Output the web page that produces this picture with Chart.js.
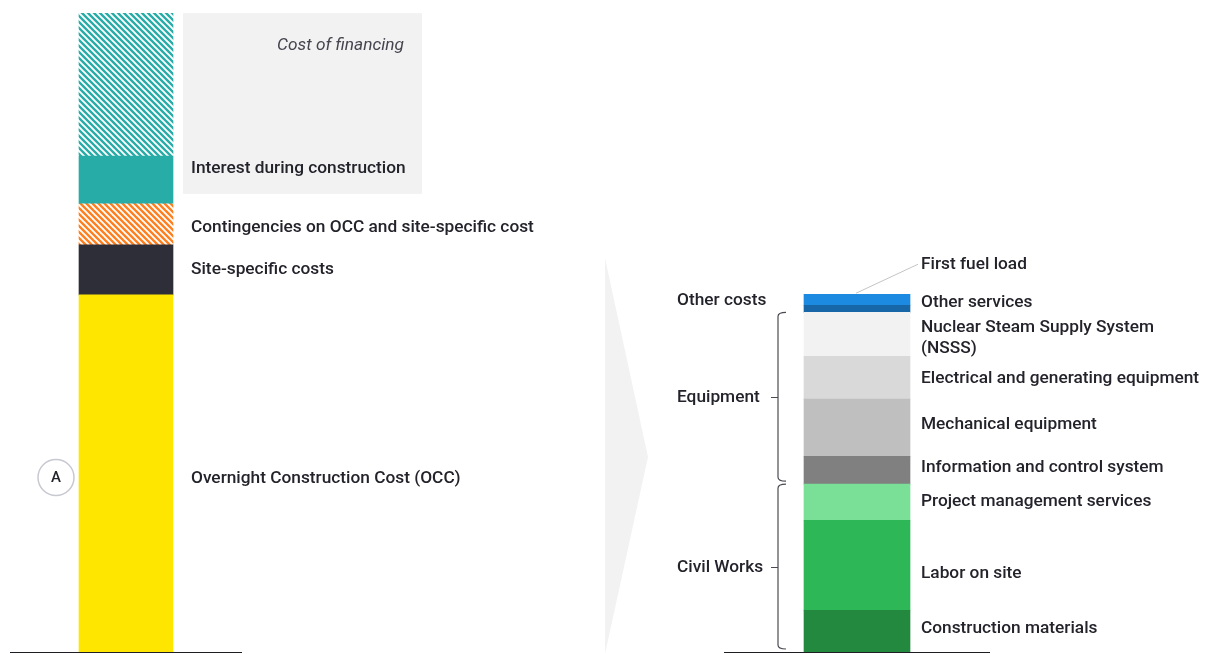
<!DOCTYPE html>
<html>
<head>
<meta charset="utf-8">
<script src="https://cdn.jsdelivr.net/npm/chart.js@4/dist/chart.umd.min.js"></script>
<style>
  html, body { margin: 0; padding: 0; background: #fff; }
  #wrap { width: 1209px; height: 654px; }
</style>
</head>
<body>
<div id="wrap"><canvas id="costChart" width="1209" height="654"></canvas></div>
<script>
// Left bar: total cost build-up (bottom to top), OCC = 100
const leftLabels = ['Overnight Construction Cost (OCC)', 'Site-specific costs',
  'Contingencies on OCC and site-specific cost', 'Interest during construction', 'Cost of financing'];
const leftValues = [100, 14, 11.5, 13.4, 40];

// Right bar: OCC breakdown (bottom to top)
const rightLabels = ['Construction materials', 'Labor on site', 'Project management services',
  'Information and control system', 'Mechanical equipment', 'Electrical and generating equipment',
  'Nuclear Steam Supply System (NSSS)', 'First fuel load', 'Other services'];
const rightValues = [11.7, 25.2, 10.1, 7.8, 16, 12, 12.3, 2, 3.1];

// Groupings of the right bar (index ranges into rightLabels)
const groupNames = ['Civil Works', 'Equipment', 'Other costs'];
const groupFrom = [0, 3, 7];
const groupTo = [2, 6, 8];

const FONT = '"Roboto", "Noto Sans", sans-serif';
const LABEL_FONT = '500 17.3px ' + FONT;
const TEXT = '#23232b';
const DY = 2; // baseline tweak for all labels

// diagonal white hatch on a coloured tile
function hatch(color) {
  const s = 6;
  const c = document.createElement('canvas');
  c.width = s; c.height = s;
  const g = c.getContext('2d');
  g.fillStyle = color;
  g.fillRect(0, 0, s, s);
  g.strokeStyle = '#ffffff';
  g.lineWidth = 1.9;
  g.beginPath();
  [-s, 0, s].forEach(k => { g.moveTo(-1, k - 1); g.lineTo(s + 1, s + k + 1); });
  g.stroke();
  return document.getElementById('costChart').getContext('2d').createPattern(c, 'repeat');
}

const leftColors = ['#ffe600', '#2e2e38', hatch('#ff7f1e'), '#28aca8', hatch('#28aca8')];
const rightColors = ['#23893f', '#2db757', '#7adf97', '#808080', '#bfbfbf', '#d9d9d9',
  '#f2f2f2', '#1766a8', '#1b8ae0'];

// label vertical nudges relative to segment middle (px)
const leftNudge = [3, -2, 1.5, -13, 0];
const rightNudge = [-4, 6, -3, -5, -5, -1, 1, 0, 0.5];

const datasets = [];
leftValues.forEach((v, i) => datasets.push({
  label: leftLabels[i], data: [{ x: 0, y: v }], backgroundColor: leftColors[i],
  barThickness: 94, side: 'left', idx: i
}));
rightValues.forEach((v, i) => datasets.push({
  label: rightLabels[i], data: [{ x: 1, y: v }], backgroundColor: rightColors[i],
  barThickness: 106, side: 'right', idx: i
}));

function seg(chart, side, i) {
  const k = chart.data.datasets.findIndex(d => d.side === side && d.idx === i);
  return chart.getDatasetMeta(k).data[0];
}

const decor = {
  id: 'decor',
  beforeDatasetsDraw(chart) {
    const ctx = chart.ctx;
    ctx.save();
    // chevron between the bars
    ctx.fillStyle = '#f2f2f2';
    ctx.beginPath();
    ctx.moveTo(605, 258);
    ctx.lineTo(648, 457);
    ctx.lineTo(605, 654);
    ctx.closePath();
    ctx.fill();
    // cost of financing box
    const fin = seg(chart, 'left', 4), idc = seg(chart, 'left', 3);
    const bx = fin.x + fin.width / 2 + 10;
    ctx.fillRect(bx, fin.y, 422 - bx, idc.base - 10 - fin.y);
    ctx.restore();
  },
  afterDatasetsDraw(chart) {
    const ctx = chart.ctx;
    const y0 = chart.scales.y.getPixelForValue(0);
    ctx.save();
    ctx.textBaseline = 'middle';
    ctx.font = LABEL_FONT;
    ctx.fillStyle = TEXT;

    // left labels
    leftLabels.forEach((t, i) => {
      const b = seg(chart, 'left', i);
      if (i === 4) return;
      ctx.textAlign = 'left';
      ctx.fillText(t, b.x + b.width / 2 + 18, (b.y + b.base) / 2 + leftNudge[i] + DY);
    });
    const fin = seg(chart, 'left', 4);
    ctx.font = 'italic 17.3px ' + FONT;
    ctx.fillStyle = '#45454f';
    ctx.textAlign = 'right';
    ctx.fillText(leftLabels[4], 404, fin.y + 30 + DY);

    // circle A
    const occ = seg(chart, 'left', 0);
    const cy = (occ.y + occ.base) / 2 + leftNudge[0] + 1;
    const cx = occ.x - occ.width / 2 - 23;
    ctx.beginPath();
    ctx.arc(cx, cy, 18, 0, Math.PI * 2);
    ctx.strokeStyle = '#c8c8d2';
    ctx.lineWidth = 1.5;
    ctx.stroke();
    ctx.font = '500 15px ' + FONT;
    ctx.fillStyle = TEXT;
    ctx.textAlign = 'center';
    ctx.fillText('A', cx, cy + 1);

    // right labels
    ctx.font = LABEL_FONT;
    ctx.textAlign = 'left';
    rightLabels.forEach((t, i) => {
      const b = seg(chart, 'right', i);
      const lx = b.x + b.width / 2 + 11;
      const my = (b.y + b.base) / 2 + rightNudge[i] + DY;
      if (i === 6) {
        ctx.fillText('Nuclear Steam Supply System', lx, my - 10);
        ctx.fillText('(NSSS)', lx, my + 11);
      } else if (i === 7) {
        const top = seg(chart, 'right', 8).y;
        ctx.fillText(t, lx, top - 32 + DY);
        ctx.beginPath();
        ctx.moveTo(b.x - 1, top - 1);
        ctx.lineTo(lx - 3, top - 30);
        ctx.strokeStyle = '#c4c4c4';
        ctx.lineWidth = 1;
        ctx.stroke();
      } else {
        ctx.fillText(t, lx, my);
      }
    });

    // group labels and braces
    ctx.strokeStyle = '#4a4a52';
    ctx.lineWidth = 1.2;
    groupNames.forEach((g, i) => {
      const top = seg(chart, 'right', groupTo[i]).y;
      const bot = seg(chart, 'right', groupFrom[i]).base;
      if (i === 2) {
        ctx.fillText(g, 677, (top + bot) / 2 - 5 + DY);
        return;
      }
      const t = top, bb = bot - 3, mid = (t + bb) / 2;
      const x = 778;
      ctx.beginPath();
      ctx.moveTo(786, t);
      ctx.quadraticCurveTo(x, t, x, t + 4);
      ctx.lineTo(x, bb - 4);
      ctx.quadraticCurveTo(x, bb, 786, bb);
      ctx.moveTo(771, Math.round(mid) + 0.5);
      ctx.lineTo(x, Math.round(mid) + 0.5);
      ctx.stroke();
      ctx.fillText(g, 677, mid - 1 + DY);
    });

    // baselines
    ctx.strokeStyle = '#1e1e24';
    ctx.lineWidth = 1;
    const lb = seg(chart, 'left', 0), rb = seg(chart, 'right', 0);
    ctx.beginPath();
    ctx.moveTo(lb.x - 116, Math.round(y0) + 0.5);
    ctx.lineTo(lb.x + 116, Math.round(y0) + 0.5);
    ctx.moveTo(rb.x - 133, Math.round(y0) + 0.5);
    ctx.lineTo(rb.x + 133, Math.round(y0) + 0.5);
    ctx.stroke();
    ctx.restore();
  }
};

new Chart(document.getElementById('costChart'), {
  type: 'bar',
  data: { datasets },
  options: {
    responsive: false,
    animation: false,
    events: [],
    datasets: { bar: { grouped: false, borderWidth: 0 } },
    layout: { padding: { left: 0, right: 0, top: 0, bottom: 2 } },
    plugins: { legend: { display: false }, tooltip: { enabled: false } },
    scales: {
      x: { type: 'linear', min: -0.17237, max: 1.48153, offset: false, display: false },
      y: { stacked: true, min: 0, max: 182.6, display: false }
    }
  },
  plugins: [decor]
});
</script>
</body>
</html>
